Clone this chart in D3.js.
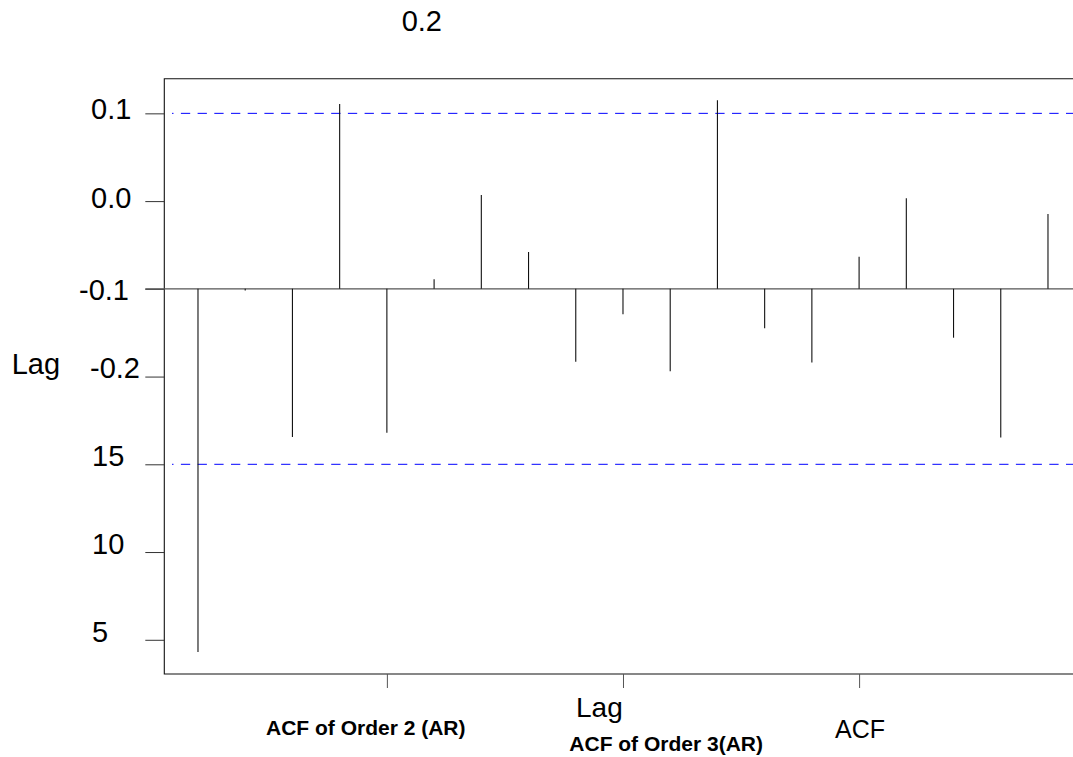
<!DOCTYPE html>
<html>
<head>
<meta charset="utf-8">
<script src="https://cdn.jsdelivr.net/npm/d3@7"></script>
<style>
  html, body { margin: 0; padding: 0; background: #fff; }
  svg { display: block; }
  text { font-family: "Liberation Sans", Arial, sans-serif; fill: #000; }
</style>
</head>
<body>
<svg id="chart" width="1073" height="757"></svg>
<script>
// ---- data ----
const lags = [1,2,3,4,5,6,7,8,9,10,11,12,13,14,15,16,17,18,19];
const acf  = [-0.414,-0.002,-0.169,0.2106,-0.164,0.011,0.107,0.042,-0.083,-0.029,
              -0.094,0.215,-0.045,-0.084,0.0366,0.1032,-0.0557,-0.1695,0.0853];
const confBound = 0.2;
const yTickValues = [0.2, 0.1, 0.0, -0.1, -0.2, -0.3, -0.4];
const yTickLabels = ["0.1", "0.0", "-0.1", "-0.2", "15", "10", "5"];
const topStrayLabel = "0.2";
const topStrayValue = 0.3;
const xTickValues = [5, 10, 15];
const textLabels = ["Lag", "Lag", "ACF of Order 2 (AR)", "ACF of Order 3(AR)", "ACF"];

// ---- layout ----
const svg = d3.select("#chart");
const mLeft = 164.3, mTop = 78.7, mBottom = 674, mRight = 1080;
const x = d3.scaleLinear().domain([0.2866, 19.678]).range([mLeft, mRight]);
const y = d3.scaleLinear().domain([-0.439, 0.2395]).range([mBottom, mTop]);

// per-label nudges (x start, baseline offset)
const yLabelX  = [91, 91, 79, 90, 92, 92, 92];
const yLabelDy = [6, 7, 11.5, 1.3, 1.3, 2, 2.3];

// frame (top, left, bottom)
svg.append("path")
  .attr("d", `M${mRight},${mTop}H${mLeft}V${mBottom}H${mRight}`)
  .attr("fill", "none").attr("stroke", "#111").attr("stroke-width", 1.1);

// y ticks
const yAxis = d3.axisLeft(y).tickValues(yTickValues).tickSize(19).tickFormat("");
const gy = svg.append("g").attr("transform", `translate(${mLeft},0)`).call(yAxis);
gy.select(".domain").remove();
gy.selectAll(".tick line").attr("stroke", "#333");

// y labels
svg.append("g").selectAll("text")
  .data(yTickValues)
  .join("text")
  .attr("x", (d, i) => yLabelX[i])
  .attr("y", (d, i) => y(d) + yLabelDy[i])
  .attr("font-size", 29)
  .text((d, i) => yTickLabels[i]);

svg.append("text")
  .attr("x", 401.7).attr("y", y(topStrayValue) + 5.8)
  .attr("font-size", 29).text(topStrayLabel);

// x ticks
const xAxis = d3.axisBottom(x).tickValues(xTickValues).tickSize(14).tickFormat("");
const gx = svg.append("g").attr("transform", `translate(0,${mBottom})`).call(xAxis);
gx.select(".domain").remove();
gx.selectAll(".tick line").attr("stroke", "#555");

// confidence bounds
svg.append("g").selectAll("line")
  .data([confBound, -confBound])
  .join("line")
  .attr("x1", 172).attr("x2", mRight)
  .attr("y1", d => y(d)).attr("y2", d => y(d))
  .attr("stroke", "#0000ff").attr("stroke-width", 1)
  .attr("stroke-dasharray", "9.3,7.4")
  .attr("stroke-dashoffset", 7.8);

// zero line
svg.append("line")
  .attr("x1", mLeft - 19).attr("x2", mRight)
  .attr("y1", y(0)).attr("y2", y(0))
  .attr("stroke", "#555").attr("stroke-width", 1.2);

// stems
svg.append("g").selectAll("line")
  .data(lags)
  .join("line")
  .attr("x1", d => x(d)).attr("x2", d => x(d))
  .attr("y1", y(0)).attr("y2", (d, i) => y(acf[i]))
  .attr("stroke", "#111").attr("stroke-width", 1.1);

// free text labels
svg.append("text").attr("x", 11.7).attr("y", 373.5).attr("font-size", 29).text(textLabels[0]);
svg.append("text").attr("x", 576).attr("y", 716.5).attr("font-size", 28).text(textLabels[1]);
svg.append("text").attr("x", 266).attr("y", 735).attr("font-size", 21)
  .attr("font-weight", "bold").text(textLabels[2]);
svg.append("text").attr("x", 569.3).attr("y", 751).attr("font-size", 21)
  .attr("font-weight", "bold").text(textLabels[3]);
svg.append("text").attr("x", 835).attr("y", 738).attr("font-size", 25).text(textLabels[4]);
</script>
</body>
</html>
